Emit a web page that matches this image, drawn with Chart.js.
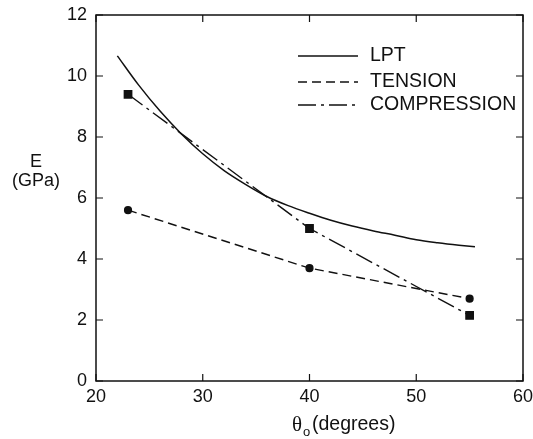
<!DOCTYPE html>
<html>
<head>
<meta charset="utf-8">
<script src="https://cdn.jsdelivr.net/npm/chart.js@4.4.1/dist/chart.umd.min.js"></script>
<style>
html,body{margin:0;padding:0;background:#fff;}
#wrap{width:533px;height:439px;position:relative;}
</style>
</head>
<body>
<div id="wrap"><canvas id="c" width="533" height="439"></canvas></div>
<script>
// ---- data ----
const lptX = [22, 24, 26, 28, 30, 32, 34, 36, 38, 40, 42, 44, 46, 48, 50, 52, 54, 55.5];
const lptY = [10.66, 9.7, 8.85, 8.1, 7.45, 6.9, 6.45, 6.05, 5.75, 5.5, 5.27, 5.08, 4.92, 4.78, 4.63, 4.53, 4.45, 4.40];
const tensionX = [23, 40, 55];
const tensionY = [5.6, 3.7, 2.7];
const compressionX = [23, 40, 55];
const compressionY = [9.4, 5.0, 2.15];
const xTicks = [20, 30, 40, 50, 60];
const yTicks = [0, 2, 4, 6, 8, 10, 12];
const seriesNames = ['LPT', 'TENSION', 'COMPRESSION'];
const yTitle = ['E', '(GPa)'];
const xTitleSymbol = 'θ';
const xTitleSub = 'o';
const xTitleRest = '(degrees)';

const pts = (xs, ys) => xs.map((x, i) => ({x: x, y: ys[i]}));
const FONT = 'Liberation Sans, Arial, Helvetica, sans-serif';
const INK = '#111';

const frame = {
  id: 'frame',
  afterDraw(chart) {
    const {ctx, chartArea: a, scales: {x, y}} = chart;
    ctx.save();
    ctx.strokeStyle = INK;
    ctx.lineWidth = 1.5;
    ctx.strokeRect(a.left, a.top, a.right - a.left, a.bottom - a.top);
    ctx.lineWidth = 1.2;
    const L = 7;
    xTicks.forEach(v => {
      const px = x.getPixelForValue(v);
      ctx.beginPath();
      ctx.moveTo(px, a.bottom); ctx.lineTo(px, a.bottom - L);
      ctx.moveTo(px, a.top); ctx.lineTo(px, a.top + L);
      ctx.stroke();
    });
    yTicks.forEach(v => {
      const py = y.getPixelForValue(v);
      ctx.beginPath();
      ctx.moveTo(a.left, py); ctx.lineTo(a.left + L, py);
      ctx.moveTo(a.right, py); ctx.lineTo(a.right - L, py);
      ctx.stroke();
    });
    // y title
    ctx.fillStyle = INK;
    ctx.font = '18px ' + FONT;
    ctx.textAlign = 'center';
    ctx.textBaseline = 'middle';
    ctx.fillText(yTitle[0], 36, 162);
    ctx.fillText(yTitle[1], 36, 181);
    // x title
    ctx.textAlign = 'left';
    ctx.textBaseline = 'alphabetic';
    ctx.font = '21px Liberation Serif, DejaVu Serif, serif';
    ctx.fillText(xTitleSymbol, 292, 431);
    ctx.font = '13px ' + FONT;
    ctx.fillText(xTitleSub, 303, 436);
    ctx.font = '19.5px ' + FONT;
    ctx.fillText(xTitleRest, 312, 430);
    // legend
    const rows = [56, 82, 105];
    chart.data.datasets.forEach((ds, i) => {
      ctx.beginPath();
      ctx.setLineDash(ds.borderDash || []);
      ctx.lineWidth = ds.borderWidth;
      ctx.strokeStyle = INK;
      ctx.moveTo(298, rows[i]);
      ctx.lineTo(358, rows[i]);
      ctx.stroke();
      ctx.setLineDash([]);
      ctx.font = '19.5px ' + FONT;
      ctx.textBaseline = 'middle';
      ctx.fillText(ds.label, 370, rows[i]);
    });
    ctx.restore();
  }
};

new Chart(document.getElementById('c'), {
  type: 'scatter',
  data: {
    datasets: [
      {label: seriesNames[0], data: pts(lptX, lptY), showLine: true, borderColor: INK, borderWidth: 1.5,
       pointRadius: 0, tension: 0.4, cubicInterpolationMode: 'monotone', fill: false},
      {label: seriesNames[1], data: pts(tensionX, tensionY), showLine: true, borderColor: INK, borderWidth: 1.4,
       borderDash: [9, 5], pointStyle: 'circle', pointRadius: 3.4, pointBackgroundColor: INK, pointBorderColor: INK, fill: false},
      {label: seriesNames[2], data: pts(compressionX, compressionY), showLine: true, borderColor: INK, borderWidth: 1.4,
       borderDash: [18, 5, 3, 5], pointStyle: 'rect', pointRadius: 5.2, pointBackgroundColor: INK, pointBorderColor: INK, fill: false}
    ]
  },
  options: {
    responsive: false,
    animation: false,
    devicePixelRatio: 1,
    layout: {padding: {top: 15, right: 10, left: 0, bottom: 0}},
    plugins: {legend: {display: false}, tooltip: {enabled: false}},
    scales: {
      x: {
        type: 'linear', min: 20, max: 60,
        afterBuildTicks: s => { s.ticks = xTicks.map(v => ({value: v})); },
        afterFit: s => { s.height = 58; s.paddingLeft = 0; s.paddingRight = 0; },
        grid: {display: false, drawTicks: false},
        border: {display: false},
        ticks: {color: INK, font: {family: FONT, size: 18}, padding: 5, maxRotation: 0}
      },
      y: {
        type: 'linear', min: 0, max: 12,
        afterBuildTicks: s => { s.ticks = yTicks.map(v => ({value: v})); },
        afterFit: s => { s.width = 96; s.paddingTop = 0; s.paddingBottom = 0; },
        grid: {display: false, drawTicks: false},
        border: {display: false},
        ticks: {color: INK, font: {family: FONT, size: 18}, padding: 9}
      }
    }
  },
  plugins: [frame]
});
</script>
</body>
</html>
